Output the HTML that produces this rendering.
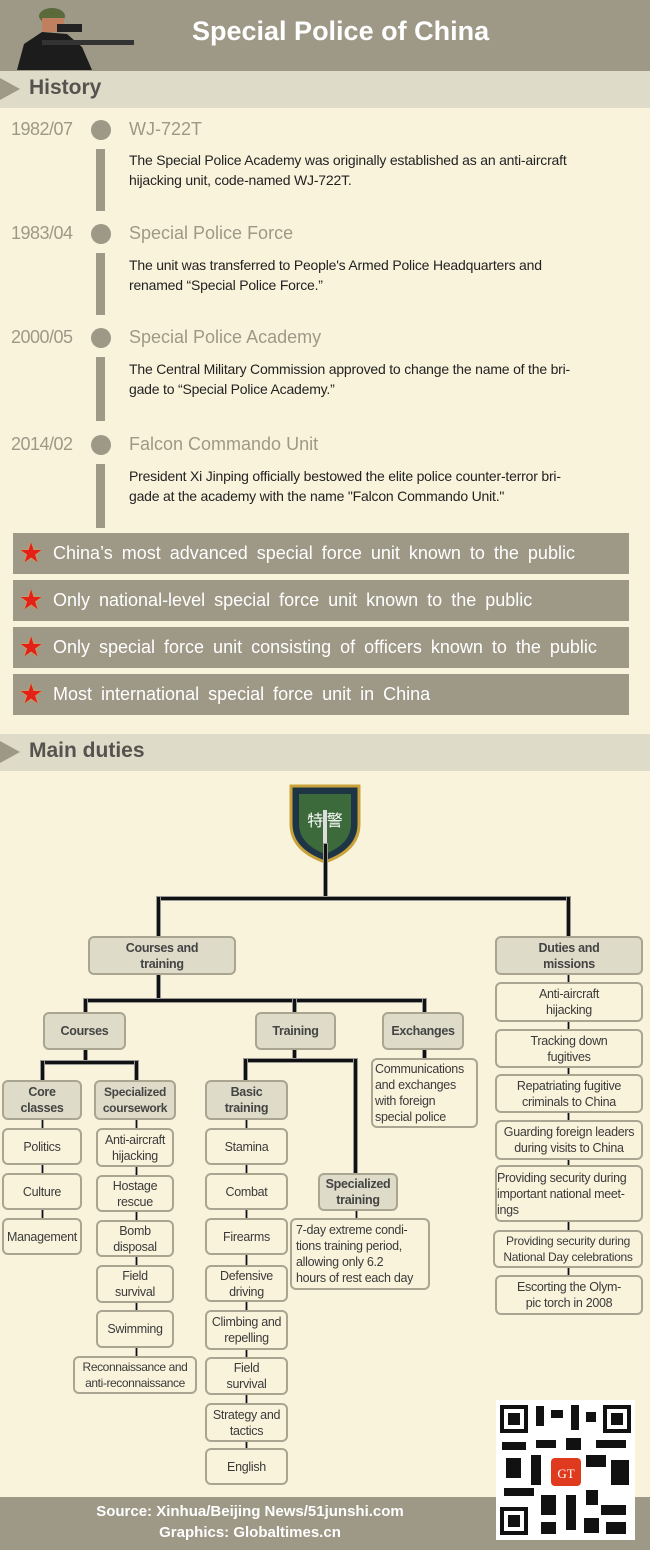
<!DOCTYPE html>
<html><head><meta charset="utf-8"><style>
*{margin:0;padding:0;box-sizing:border-box}
body{width:650px;height:1550px;background:#faf3dc;position:relative;overflow:hidden;font-family:"Liberation Sans",sans-serif}
.a{position:absolute}
.hdr{left:0;top:0;width:650px;height:71px;background:#9e9886}
.bar{left:0;width:650px;height:37px;background:#dedbc8}
.tri{width:0;height:0;border-top:11px solid transparent;border-bottom:11px solid transparent;border-left:20px solid #9e9886}
.sec{font:bold 21px "Liberation Sans",sans-serif;color:#55534f}
.date{font-size:18px;color:#9e9886;left:11px;letter-spacing:-0.5px}
.dot{width:20px;height:20px;border-radius:50%;background:#9e9886;left:91px}
.ttl{font-size:18px;color:#9e9886;left:129px}
.vb{left:96px;width:9px;background:#9e9886}
.desc{left:129px;font-size:14px;color:#222;line-height:20px;width:510px;letter-spacing:-0.2px}
.stat{left:13px;width:616px;height:41px;background:#9e9886;color:#fff;font-size:18px;line-height:41px;padding-left:40px;word-spacing:4px;white-space:nowrap}
.star{position:absolute;left:6px;top:6px;color:#e32119;font-size:27px;line-height:28px;text-shadow:0 0 2px #f6a23a}
.b{position:absolute;border:2px solid #aaa591;border-radius:6px;display:flex;align-items:center;justify-content:center;text-align:center;font-size:12.5px;line-height:16px;color:#3a3a3a;background:#faf3dc;letter-spacing:-0.3px;white-space:nowrap}
.g{background:#dedbc8;font-weight:bold;font-size:12.5px;color:#444}
.l{position:absolute;background:#111;border:1px solid #999}
</style></head><body>
<div class="a hdr"></div>
<svg class="a" style="left:12px;top:2px" width="125" height="68"><ellipse cx="40" cy="14" rx="13" ry="8" fill="#5a6a3a"/><rect x="30" y="16" width="22" height="14" fill="#c08060"/><path d="M5 68 L12 42 L30 30 L55 32 L70 45 L80 68Z" fill="#1c1c1c"/><rect x="30" y="38" width="92" height="5" fill="#333"/><rect x="45" y="22" width="25" height="8" fill="#222"/></svg>
<div class="a" style="left:192px;top:16px;font:bold 27px 'Liberation Sans',sans-serif;color:#fff">Special Police of China</div>
<div class="a bar" style="top:71px"></div>
<div class="a tri" style="left:0;top:78px"></div>
<div class="a sec" style="left:29px;top:76px">History</div>

<div class="a date" style="top:119px">1982/07</div><div class="a dot" style="top:120px"></div><div class="a ttl" style="top:119px">WJ-722T</div>
<div class="a vb" style="top:149px;height:62px"></div>
<div class="a desc" style="top:150px">The Special Police Academy was originally established as an anti-aircraft<br>hijacking unit, code-named WJ-722T.</div>

<div class="a date" style="top:223px">1983/04</div><div class="a dot" style="top:224px"></div><div class="a ttl" style="top:223px">Special Police Force</div>
<div class="a vb" style="top:253px;height:62px"></div>
<div class="a desc" style="top:255px">The unit was transferred to People's Armed Police Headquarters and<br>renamed “Special Police Force.”</div>

<div class="a date" style="top:327px">2000/05</div><div class="a dot" style="top:328px"></div><div class="a ttl" style="top:327px">Special Police Academy</div>
<div class="a vb" style="top:357px;height:64px"></div>
<div class="a desc" style="top:359px">The Central Military Commission approved to change the name of the bri-<br>gade to “Special Police Academy.”</div>

<div class="a date" style="top:434px">2014/02</div><div class="a dot" style="top:435px"></div><div class="a ttl" style="top:434px">Falcon Commando Unit</div>
<div class="a vb" style="top:464px;height:64px"></div>
<div class="a desc" style="top:466px">President Xi Jinping officially bestowed the elite police counter-terror bri-<br>gade at the academy with the name "Falcon Commando Unit."</div>

<div class="a stat" style="top:533px"><span class="star">★</span>China’s most advanced special force unit known to the public</div>
<div class="a stat" style="top:580px"><span class="star">★</span>Only national-level special force unit known to the public</div>
<div class="a stat" style="top:627px"><span class="star">★</span>Only special force unit consisting of officers known to the public</div>
<div class="a stat" style="top:674px"><span class="star">★</span>Most international special force unit in China</div>

<div class="a bar" style="top:734px"></div>
<div class="a tri" style="left:0;top:741px"></div>
<div class="a sec" style="left:29px;top:739px">Main duties</div>

<svg class="a" style="left:289px;top:780px" width="72" height="84"><path d="M2 6 L70 6 L70 44 Q70 70 36 82 Q2 70 2 44Z" fill="#1e3545" stroke="#c9a33a" stroke-width="3"/><path d="M10 14 L62 14 L62 44 Q62 64 36 74 Q10 64 10 44Z" fill="#3c6a3a"/><text x="36" y="46" font-size="16" fill="#fff" text-anchor="middle" font-family="Noto Sans CJK SC,sans-serif">特 警</text><rect x="34" y="30" width="4" height="40" fill="#ddd"/></svg>

<div class="l" style="left:323px;top:843px;width:5px;height:58px"></div>
<div class="l" style="left:156px;top:896px;width:415px;height:5px"></div>
<div class="l" style="left:156px;top:896px;width:5px;height:42px"></div>
<div class="l" style="left:566px;top:896px;width:5px;height:42px"></div>
<div class="l" style="left:156px;top:973px;width:5px;height:30px"></div>
<div class="l" style="left:83px;top:998px;width:344px;height:5px"></div>
<div class="l" style="left:83px;top:998px;width:5px;height:16px"></div>
<div class="l" style="left:292px;top:998px;width:5px;height:16px"></div>
<div class="l" style="left:422px;top:998px;width:5px;height:16px"></div>
<div class="l" style="left:422px;top:1048px;width:5px;height:12px"></div>
<div class="l" style="left:83px;top:1048px;width:5px;height:16px"></div>
<div class="l" style="left:40px;top:1060px;width:99px;height:5px"></div>
<div class="l" style="left:40px;top:1060px;width:5px;height:22px"></div>
<div class="l" style="left:134px;top:1060px;width:5px;height:22px"></div>
<div class="l" style="left:292px;top:1048px;width:5px;height:14px"></div>
<div class="l" style="left:243px;top:1058px;width:115px;height:5px"></div>
<div class="l" style="left:243px;top:1058px;width:5px;height:24px"></div>
<div class="l" style="left:353px;top:1058px;width:5px;height:117px"></div>
<div class="l" style="left:41px;top:1118px;width:3px;height:120px"></div>
<div class="l" style="left:135px;top:1118px;width:3px;height:240px"></div>
<div class="l" style="left:245px;top:1118px;width:3px;height:332px"></div>
<div class="l" style="left:567px;top:973px;width:3px;height:304px"></div>
<div class="l" style="left:355px;top:1208px;width:3px;height:12px"></div>

<div class="b g" style="left:88px;top:936px;width:148px;height:39px">Courses and<br>training</div>
<div class="b g" style="left:495px;top:936px;width:148px;height:39px">Duties and<br>missions</div>
<div class="b g" style="left:43px;top:1012px;width:83px;height:38px">Courses</div>
<div class="b g" style="left:255px;top:1012px;width:81px;height:38px">Training</div>
<div class="b g" style="left:382px;top:1012px;width:82px;height:38px">Exchanges</div>
<div class="b" style="left:371px;top:1058px;width:107px;height:70px;text-align:left;justify-content:flex-start;padding-left:2px">Communications<br>and exchanges<br>with foreign<br>special police</div>
<div class="b g" style="left:2px;top:1080px;width:80px;height:40px">Core<br>classes</div>
<div class="b g" style="left:94px;top:1080px;width:82px;height:40px;font-size:12px">Specialized<br>coursework</div>
<div class="b g" style="left:205px;top:1080px;width:83px;height:40px">Basic<br>training</div>

<div class="b" style="left:2px;top:1128px;width:80px;height:37px">Politics</div>
<div class="b" style="left:2px;top:1173px;width:80px;height:37px">Culture</div>
<div class="b" style="left:2px;top:1218px;width:80px;height:37px">Management</div>

<div class="b" style="left:96px;top:1128px;width:78px;height:39px">Anti-aircraft<br>hijacking</div>
<div class="b" style="left:96px;top:1175px;width:78px;height:37px">Hostage<br>rescue</div>
<div class="b" style="left:96px;top:1220px;width:78px;height:37px">Bomb<br>disposal</div>
<div class="b" style="left:96px;top:1265px;width:78px;height:38px">Field<br>survival</div>
<div class="b" style="left:96px;top:1310px;width:78px;height:38px">Swimming</div>
<div class="b" style="left:73px;top:1356px;width:124px;height:38px;font-size:12px;letter-spacing:-0.4px">Reconnaissance and<br>anti-reconnaissance</div>

<div class="b" style="left:205px;top:1128px;width:83px;height:37px">Stamina</div>
<div class="b" style="left:205px;top:1173px;width:83px;height:37px">Combat</div>
<div class="b" style="left:205px;top:1218px;width:83px;height:37px">Firearms</div>
<div class="b" style="left:205px;top:1265px;width:83px;height:37px">Defensive<br>driving</div>
<div class="b" style="left:205px;top:1310px;width:83px;height:40px">Climbing and<br>repelling</div>
<div class="b" style="left:205px;top:1357px;width:83px;height:38px">Field<br>survival</div>
<div class="b" style="left:205px;top:1403px;width:83px;height:39px">Strategy and<br>tactics</div>
<div class="b" style="left:205px;top:1448px;width:83px;height:37px">English</div>

<div class="b g" style="left:318px;top:1173px;width:80px;height:38px">Specialized<br>training</div>
<div class="b" style="left:290px;top:1218px;width:140px;height:72px;text-align:left;justify-content:flex-start;padding-left:4px">7-day extreme condi-<br>tions training period,<br>allowing only 6.2<br>hours of rest each day</div>

<div class="b" style="left:495px;top:982px;width:148px;height:40px">Anti-aircraft<br>hijacking</div>
<div class="b" style="left:495px;top:1029px;width:148px;height:39px">Tracking down<br>fugitives</div>
<div class="b" style="left:495px;top:1074px;width:148px;height:39px">Repatriating fugitive<br>criminals to China</div>
<div class="b" style="left:495px;top:1120px;width:148px;height:40px">Guarding foreign leaders<br>during visits to China</div>
<div class="b" style="left:495px;top:1165px;width:148px;height:57px;text-align:left;justify-content:flex-start">Providing security during<br>important national meet-<br>ings</div>
<div class="b" style="left:493px;top:1230px;width:150px;height:38px;font-size:12px">Providing security during<br>National Day celebrations</div>
<div class="b" style="left:495px;top:1275px;width:148px;height:40px">Escorting the Olym-<br>pic torch in 2008</div>

<div class="a" style="left:0;top:1497px;width:650px;height:53px;background:#9e9886"></div>
<div class="a" style="left:0;top:1501px;width:500px;text-align:center;font:bold 15px/21px 'Liberation Sans',sans-serif;color:#fff">Source: Xinhua/Beijing News/51junshi.com<br>Graphics: Globaltimes.cn</div>
<svg class="a" style="left:496px;top:1400px" width="139" height="140"><rect width="139" height="140" fill="#fff"/>
<g fill="#111"><rect x="4" y="5" width="28" height="28"/><rect x="107" y="5" width="28" height="28"/><rect x="4" y="107" width="28" height="28"/></g>
<g fill="#fff"><rect x="8" y="9" width="20" height="20"/><rect x="111" y="9" width="20" height="20"/><rect x="8" y="111" width="20" height="20"/></g>
<g fill="#111"><rect x="12" y="13" width="12" height="12"/><rect x="115" y="13" width="12" height="12"/><rect x="12" y="115" width="12" height="12"/>
<rect x="40" y="6" width="8" height="20"/><rect x="55" y="10" width="12" height="8"/><rect x="75" y="5" width="8" height="25"/><rect x="90" y="12" width="10" height="10"/><rect x="40" y="40" width="20" height="8"/><rect x="6" y="42" width="24" height="8"/><rect x="70" y="38" width="15" height="12"/><rect x="100" y="40" width="30" height="8"/><rect x="10" y="58" width="15" height="20"/><rect x="35" y="55" width="10" height="30"/><rect x="90" y="55" width="20" height="12"/><rect x="115" y="60" width="18" height="25"/><rect x="8" y="88" width="30" height="8"/><rect x="45" y="95" width="15" height="20"/><rect x="70" y="95" width="10" height="35"/><rect x="90" y="90" width="12" height="15"/><rect x="105" y="105" width="25" height="10"/><rect x="88" y="118" width="15" height="15"/><rect x="110" y="122" width="20" height="12"/><rect x="45" y="122" width="15" height="12"/></g>
<rect x="55" y="58" width="30" height="28" rx="4" fill="#e03a1e"/><text x="70" y="78" font-size="13" fill="#fff" text-anchor="middle" font-family="Liberation Serif,serif">GT</text></svg>
</body></html>
